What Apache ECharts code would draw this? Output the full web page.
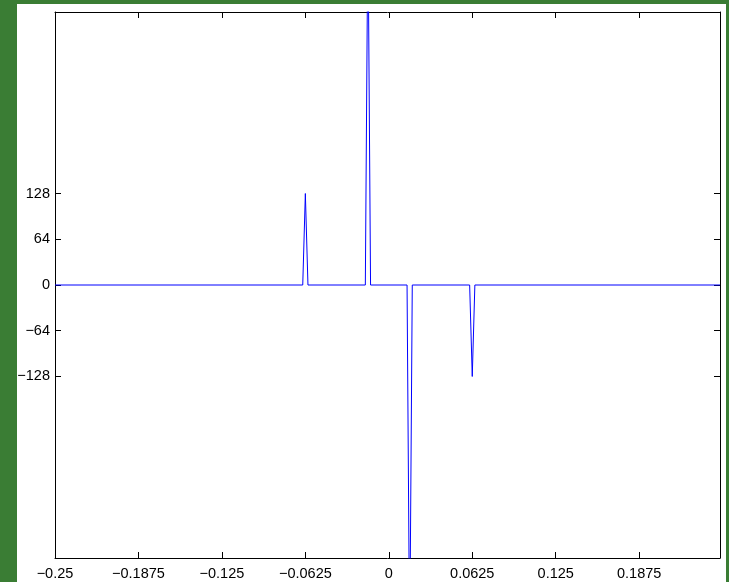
<!DOCTYPE html>
<html>
<head>
<meta charset="utf-8">
<script src="https://cdn.jsdelivr.net/npm/echarts@6/dist/echarts.min.js"></script>
<style>
  html, body { margin: 0; padding: 0; width: 729px; height: 582px; background: #3a7d34; overflow: hidden; }
  #panel { position: absolute; left: 17px; top: 4px; width: 709px; height: 578px; background: #ffffff; }
  #chart { position: absolute; left: 0; top: 0; width: 729px; height: 582px; }
</style>
</head>
<body>
<div id="panel"></div>
<div id="chart"></div>
<script>
// Frequency (x) vertices of the plotted line and their amplitudes (y)
var freqs = [-0.25, -0.064453125, -0.0625, -0.060546875, -0.017578125, -0.015625, -0.013671875,
             0.013671875, 0.015625, 0.017578125, 0.060546875, 0.0625, 0.064453125, 0.248046875];
var amps  = [0, 0, 128, 0, 0, 512, 0,
             0, -512, 0, 0, -128, 0, 0];
var xTicks = [-0.25, -0.1875, -0.125, -0.0625, 0, 0.0625, 0.125, 0.1875];
var yTicks = [-128, -64, 0, 64, 128];
var xMin = -0.25, xMax = 0.248046875;
var yMin = -382, yMax = 382;

var data = freqs.map(function (f, i) { return [f, amps[i]]; });
function fmt(v) {
  var s = String(v);
  return s.charAt(0) === '-' ? '\u2212' + s.slice(1) : s;
}
var labelStyle = { color: '#000', fontFamily: 'Liberation Sans, Arial, sans-serif', fontSize: 14.5 };
var lineStyle = { color: '#000', width: 1 };

var chart = echarts.init(document.getElementById('chart'), null, { renderer: 'canvas' });
chart.setOption({
  backgroundColor: 'transparent',
  animation: false,
  grid: { left: 55, right: 9, top: 12, bottom: 24, containLabel: false, outerBoundsMode: 'none' },
  xAxis: [{
    type: 'value', min: xMin, max: xMax, position: 'bottom',
    axisLine: { show: true, onZero: false, lineStyle: lineStyle },
    axisTick: { show: true, inside: true, length: 6, lineStyle: lineStyle, customValues: xTicks },
    axisLabel: { show: true, margin: 8, customValues: xTicks, formatter: fmt, ...labelStyle },
    splitLine: { show: false }
  }, {
    type: 'value', min: xMin, max: xMax, position: 'top',
    axisLine: { show: true, onZero: false, lineStyle: lineStyle },
    axisTick: { show: true, inside: true, length: 6, lineStyle: lineStyle, customValues: xTicks },
    axisLabel: { show: false },
    splitLine: { show: false }
  }],
  yAxis: [{
    type: 'value', min: yMin, max: yMax, position: 'left',
    axisLine: { show: true, onZero: false, lineStyle: lineStyle },
    axisTick: { show: true, inside: true, length: 6, lineStyle: lineStyle, customValues: yTicks },
    axisLabel: { show: true, margin: 5, customValues: yTicks, formatter: fmt, ...labelStyle },
    splitLine: { show: false }
  }, {
    type: 'value', min: yMin, max: yMax, position: 'right',
    axisLine: { show: true, onZero: false, lineStyle: lineStyle },
    axisTick: { show: true, inside: true, length: 6, lineStyle: lineStyle, customValues: yTicks },
    axisLabel: { show: false },
    splitLine: { show: false }
  }],
  series: [{
    type: 'line',
    xAxisIndex: 0, yAxisIndex: 0,
    data: data,
    showSymbol: false,
    symbol: 'none',
    clip: true,
    lineStyle: { color: '#0000ff', width: 1 }
  }]
});
</script>
</body>
</html>
